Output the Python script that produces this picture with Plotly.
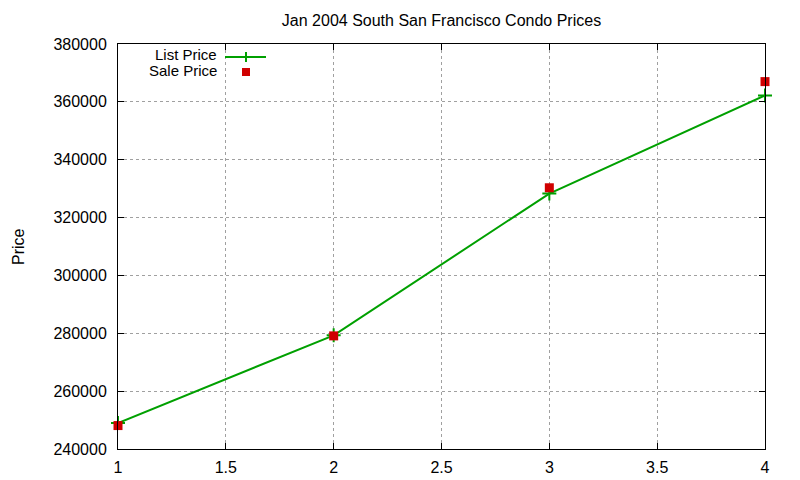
import plotly.graph_objects as go

months = [1, 2, 3, 4]
list_price = [249000, 279300, 328300, 362200]
sale_price = [248100, 279100, 330300, 367000]

GREEN = "#00a000"
RED = "#d00000"
FONT = "Liberation Sans, Arial, sans-serif"
FS = 16

fig = go.Figure()
fig.add_trace(go.Scatter(x=months, y=list_price, mode="lines+markers", name="List Price",
                         line=dict(color=GREEN, width=2),
                         marker=dict(symbol="cross-thin", size=10, color=GREEN,
                                     line=dict(color=GREEN, width=2)),
                         cliponaxis=False))
fig.add_trace(go.Scatter(x=months, y=sale_price, mode="markers", name="Sale Price",
                         marker=dict(symbol="square", size=9, color=RED),
                         cliponaxis=False))

OFF = 8  # page body margin
W, H = 800, 480
PL, PR, PT, PB = 118, 765, 44, 449
L, T = PL - OFF, PT - OFF
R, B = W - (PR - OFF), H - (PB - OFF)
pw, ph = PR - PL, PB - PT

def px2paper(x, y):
    return (x - PL) / pw, (PB - y) / ph

shapes = []
annotations = []
for label, ypx in [("List Price", 55), ("Sale Price", 71)]:
    tx, ty = px2paper(218, ypx)
    annotations.append(dict(x=tx, y=ty, xref="paper", yref="paper", text=label,
                            showarrow=False, xanchor="right", yanchor="middle", borderpad=0,
                            font=dict(family=FONT, size=15, color="black")))
x0, y0 = px2paper(225, 57)
x1, _ = px2paper(266, 57)
shapes.append(dict(type="line", xref="paper", yref="paper", x0=x0, x1=x1, y0=y0, y1=y0,
                   line=dict(color=GREEN, width=2)))
cx, _ = px2paper(246, 57)
_, ya = px2paper(246, 52)
_, yb = px2paper(246, 62)
shapes.append(dict(type="line", xref="paper", yref="paper", x0=cx, x1=cx, y0=ya, y1=yb,
                   line=dict(color=GREEN, width=2)))
sx0, sy0 = px2paper(242, 76)
sx1, sy1 = px2paper(250, 68)
shapes.append(dict(type="rect", xref="paper", yref="paper", x0=sx0, x1=sx1, y0=sy0, y1=sy1,
                   fillcolor=RED, line=dict(width=0)))

px_, py_ = px2paper(18, 247)
annotations.append(dict(x=px_, y=py_, xref="paper", yref="paper", text="Price", textangle=-90,
                        showarrow=False, xanchor="center", yanchor="middle", borderpad=0,
                        font=dict(family=FONT, size=FS, color="black")))

axis_common = dict(showline=True, linecolor="black", linewidth=1, mirror="ticks",
                   ticks="inside", ticklen=6, tickcolor="black",
                   showgrid=True, gridcolor="#a0a0a0", griddash="dot", gridwidth=1,
                   zeroline=False, tickfont=dict(family=FONT, size=FS, color="black"))

fig.update_layout(
    width=W, height=H,
    margin=dict(l=L, r=R, t=T, b=B, autoexpand=False),
    paper_bgcolor="white", plot_bgcolor="white",
    showlegend=False,
    title=dict(text="Jan 2004 South San Francisco Condo Prices", x=0.5, xref="paper",
               xanchor="center", y=1 - (20 - OFF) / H, yanchor="middle",
               font=dict(family=FONT, size=FS, color="black")),
    xaxis=dict(range=[1, 4], tickvals=[1, 1.5, 2, 2.5, 3, 3.5, 4],
               ticktext=["1", "1.5", "2", "2.5", "3", "3.5", "4"],
               ticklabelstandoff=4, **axis_common),
    yaxis=dict(range=[240000, 380000], tickvals=list(range(240000, 380001, 20000)),
               tickformat="d", ticklabelstandoff=7, **axis_common),
    shapes=shapes,
    annotations=annotations,
)

fig.write_html("out.html")
